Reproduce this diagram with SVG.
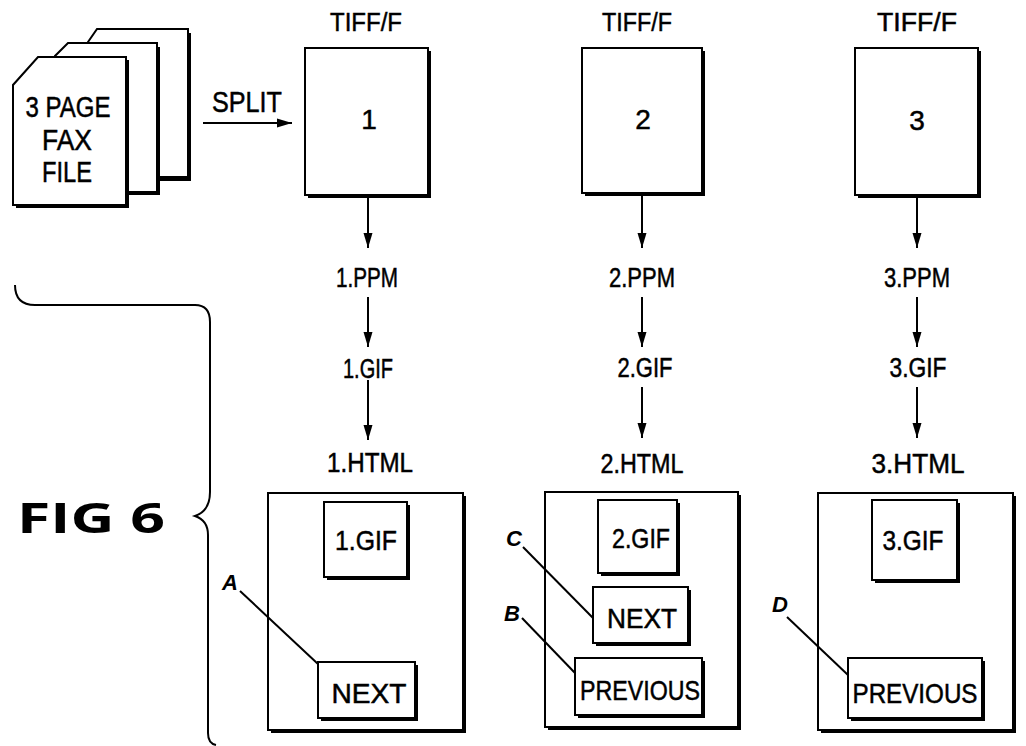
<svg xmlns="http://www.w3.org/2000/svg" width="1026" height="746" viewBox="0 0 1026 746">
<style>
.t{font-family:"Liberation Sans",Arial,sans-serif;fill:#000;stroke:#000;stroke-width:0.5;text-anchor:middle}
.box{fill:#fff;stroke:#000;stroke-width:2}
.sh{fill:#000}
.ln{stroke:#000;stroke-width:2;fill:none}
.lbl{font-family:"Liberation Sans",Arial,sans-serif;font-style:italic;font-weight:bold;font-size:22px;fill:#000;text-anchor:middle}
</style>
<defs>
<marker id="ah" markerUnits="userSpaceOnUse" markerWidth="16" markerHeight="10" refX="15" refY="5" orient="auto">
<path d="M0,0.5 L15,5 L0,9.5 z" fill="#000"/>
</marker>
</defs>
<rect width="1026" height="746" fill="#fff"/>

<g id="fax-file">
<polygon points="100,33 191,33 191,181 91,181 91,45" class="sh"/>
<polygon points="97,29 188,29 188,177 88,177 88,42" class="box"/>
<polygon points="71,47 160,47 160,195 58,195 58,59" class="sh"/>
<polygon points="68,43 157,43 157,192 55,192 55,56" class="box"/>
<polygon points="41,60 129,60 129,208 16,208 16,88" class="sh"/>
<polygon points="38,57 126,57 126,205 13,205 13,85" class="box"/>
<text class="t" x="68" y="117" font-size="30" textLength="85" lengthAdjust="spacingAndGlyphs">3 PAGE</text>
<text class="t" x="67" y="150" font-size="30" textLength="50" lengthAdjust="spacingAndGlyphs">FAX</text>
<text class="t" x="67" y="182" font-size="30" textLength="50" lengthAdjust="spacingAndGlyphs">FILE</text>
</g>

<g id="split-label">
<text class="t" x="247" y="112" font-size="29" textLength="70" lengthAdjust="spacingAndGlyphs">SPLIT</text>
</g>

<g id="tiff1">
<text class="t" x="366" y="31" font-size="26" textLength="72" lengthAdjust="spacingAndGlyphs">TIFF/F</text>
<rect x="308" y="51" width="123" height="147" class="sh"/>
<rect x="305" y="48" width="123" height="147" class="box"/>
<text class="t" x="369" y="129" font-size="28">1</text>
</g>
<g id="tiff2">
<text class="t" x="637" y="31" font-size="26" textLength="70" lengthAdjust="spacingAndGlyphs">TIFF/F</text>
<rect x="585" y="51" width="120" height="145" class="sh"/>
<rect x="582" y="48" width="120" height="145" class="box"/>
<text class="t" x="643" y="129" font-size="28">2</text>
</g>
<g id="tiff3">
<text class="t" x="917" y="31" font-size="26" textLength="80" lengthAdjust="spacingAndGlyphs">TIFF/F</text>
<rect x="858" y="51" width="123" height="147" class="sh"/>
<rect x="855" y="48" width="123" height="147" class="box"/>
<text class="t" x="917" y="130" font-size="28">3</text>
</g>

<g id="labels-col1">
<text class="t" x="367" y="287" font-size="27" textLength="62" lengthAdjust="spacingAndGlyphs">1.PPM</text>
<text class="t" x="368" y="378" font-size="27" textLength="50" lengthAdjust="spacingAndGlyphs">1.GIF</text>
<text class="t" x="370" y="472" font-size="27" textLength="86" lengthAdjust="spacingAndGlyphs">1.HTML</text>
</g>
<g id="labels-col2">
<text class="t" x="642" y="287" font-size="27" textLength="66" lengthAdjust="spacingAndGlyphs">2.PPM</text>
<text class="t" x="645" y="377" font-size="27" textLength="55" lengthAdjust="spacingAndGlyphs">2.GIF</text>
<text class="t" x="642" y="473" font-size="27" textLength="83" lengthAdjust="spacingAndGlyphs">2.HTML</text>
</g>
<g id="labels-col3">
<text class="t" x="917" y="287" font-size="27" textLength="66" lengthAdjust="spacingAndGlyphs">3.PPM</text>
<text class="t" x="918" y="377" font-size="27" textLength="57" lengthAdjust="spacingAndGlyphs">3.GIF</text>
<text class="t" x="918" y="473" font-size="27" textLength="93" lengthAdjust="spacingAndGlyphs">3.HTML</text>
</g>

<g id="html1">
<rect x="271" y="496" width="195" height="237" class="sh"/>
<rect x="268" y="493" width="195" height="237" class="box"/>
<rect x="327" y="505" width="83" height="75" class="sh"/>
<rect x="324" y="502" width="83" height="75" class="box"/>
<text class="t" x="366" y="550" font-size="28" textLength="62" lengthAdjust="spacingAndGlyphs">1.GIF</text>
<rect x="321" y="665" width="97" height="56" class="sh"/>
<rect x="318" y="662" width="97" height="56" class="box"/>
<text class="t" x="369" y="703" font-size="28" textLength="75" lengthAdjust="spacingAndGlyphs">NEXT</text>
</g>
<g id="html2">
<rect x="548" y="495" width="193" height="235" class="sh"/>
<rect x="545" y="492" width="193" height="235" class="box"/>
<rect x="601" y="503" width="79" height="73" class="sh"/>
<rect x="598" y="500" width="79" height="73" class="box"/>
<text class="t" x="641" y="548" font-size="28" textLength="58" lengthAdjust="spacingAndGlyphs">2.GIF</text>
<rect x="596" y="590" width="95" height="56" class="sh"/>
<rect x="593" y="587" width="95" height="56" class="box"/>
<text class="t" x="642" y="628" font-size="28" textLength="70" lengthAdjust="spacingAndGlyphs">NEXT</text>
<rect x="578" y="661" width="127" height="57" class="sh"/>
<rect x="575" y="658" width="127" height="57" class="box"/>
<text class="t" x="640" y="700" font-size="28" textLength="120" lengthAdjust="spacingAndGlyphs">PREVIOUS</text>
</g>
<g id="html3">
<rect x="821" y="496" width="195" height="237" class="sh"/>
<rect x="818" y="493" width="195" height="237" class="box"/>
<rect x="875" y="503" width="85" height="80" class="sh"/>
<rect x="872" y="500" width="85" height="80" class="box"/>
<text class="t" x="913" y="550" font-size="28" textLength="61" lengthAdjust="spacingAndGlyphs">3.GIF</text>
<rect x="851" y="661" width="134" height="60" class="sh"/>
<rect x="848" y="658" width="134" height="60" class="box"/>
<text class="t" x="915" y="703" font-size="28" textLength="125" lengthAdjust="spacingAndGlyphs">PREVIOUS</text>
</g>

<g id="connectors">
<line x1="203" y1="123" x2="292" y2="123" class="ln" stroke-width="1.5" marker-end="url(#ah)"/>
<line x1="368" y1="195" x2="368" y2="248" class="ln" marker-end="url(#ah)"/>
<line x1="368" y1="297" x2="368" y2="347" class="ln" marker-end="url(#ah)"/>
<line x1="368" y1="380" x2="368" y2="440" class="ln" marker-end="url(#ah)"/>
<line x1="642" y1="193" x2="642" y2="248" class="ln" marker-end="url(#ah)"/>
<line x1="642" y1="297" x2="642" y2="347" class="ln" marker-end="url(#ah)"/>
<line x1="642" y1="387" x2="642" y2="438" class="ln" marker-end="url(#ah)"/>
<line x1="917" y1="195" x2="917" y2="248" class="ln" marker-end="url(#ah)"/>
<line x1="917" y1="297" x2="917" y2="347" class="ln" marker-end="url(#ah)"/>
<line x1="917" y1="387" x2="917" y2="438" class="ln" marker-end="url(#ah)"/>
<line x1="240" y1="591" x2="318" y2="664" class="ln"/>
<line x1="523" y1="547" x2="593" y2="618" class="ln"/>
<line x1="522" y1="618" x2="575" y2="673" class="ln"/>
<line x1="787" y1="617" x2="848" y2="675" class="ln"/>
</g>

<g id="callouts">
<text class="lbl" x="230" y="590">A</text>
<text class="lbl" x="514" y="546">C</text>
<text class="lbl" x="512" y="621">B</text>
<text class="lbl" x="780" y="612">D</text>
</g>

<g id="brace">
<path d="M15,285 C15,298 22,305 35,305 L195,305 C205,305 210,311 210,322 L210,492 C210,506 204,513 195,516 C204,519 208,525 208,535 L208,733 C208,740 211,744 216,745" class="ln"/>
</g>

<g id="fig-label">
<text x="17" y="533" font-family="'Open Sans','Liberation Sans',sans-serif" font-weight="bold" font-size="42" textLength="148" lengthAdjust="spacingAndGlyphs">FIG 6</text>
</g>
</svg>
